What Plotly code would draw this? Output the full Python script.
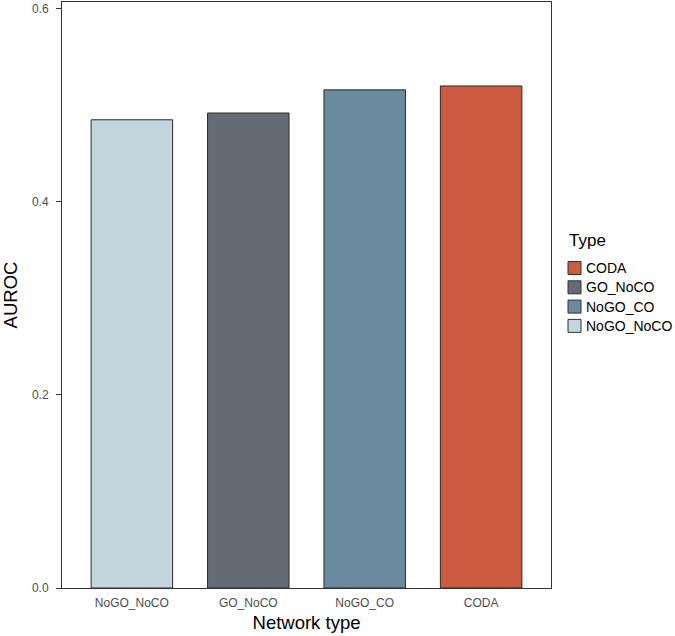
import plotly.graph_objects as go

categories = ["NoGO_NoCO", "GO_NoCO", "NoGO_CO", "CODA"]
auroc = [0.485, 0.492, 0.516, 0.520]
colors = {"CODA": "#CD5B3F", "GO_NoCO": "#646B75", "NoGO_CO": "#6A8AA0", "NoGO_NoCO": "#C3D5DD"}
legend_order = ["CODA", "GO_NoCO", "NoGO_CO", "NoGO_NoCO"]
y_ticks = [0.0, 0.2, 0.4, 0.6]

W, H = 675, 636
L, R, T, B = 62, 124, 2, 48
PW, PH = W - L - R, H - T - B

def px(x):
    return (x - L) / PW

def py(y):
    return (H - B - y) / PH

fig = go.Figure()
fig.add_trace(go.Bar(
    x=categories, y=auroc, width=0.7, showlegend=False,
    marker=dict(color=[colors[c] for c in categories], line=dict(color="#2B2B2B", width=1)),
    hovertemplate="%{x}: %{y:.3f}<extra></extra>",
))

font_family = "Liberation Sans, Arial, sans-serif"

# legend drawn manually (ggplot-style)
annotations = [dict(
    text="Type", xref="paper", yref="paper", x=px(567), y=py(240),
    xanchor="left", yanchor="middle", showarrow=False,
    font=dict(size=17, color="#000000", family=font_family),
)]
shapes = []
for k, name in enumerate(legend_order):
    yc = 268 + k * 19.3
    shapes.append(dict(
        type="rect", xref="paper", yref="paper",
        x0=px(568), x1=px(581), y0=py(yc - 6.5), y1=py(yc + 6.5),
        fillcolor=colors[name], line=dict(color="#333333", width=1),
    ))
    annotations.append(dict(
        text=name, xref="paper", yref="paper", x=px(584), y=py(yc),
        xanchor="left", yanchor="middle", showarrow=False,
        font=dict(size=14, color="#000000", family=font_family),
    ))

fig.update_layout(
    width=W, height=H,
    margin=dict(l=L, r=R, t=T, b=B),
    plot_bgcolor="white", paper_bgcolor="white",
    font=dict(family=font_family, color="#000000"),
    showlegend=False,
    annotations=annotations,
    shapes=shapes,
)
fig.update_xaxes(
    type="category", categoryorder="array", categoryarray=categories,
    range=[-0.6, 3.6], automargin=False,
    showline=True, mirror=True, linecolor="#333333", linewidth=1,
    ticks="", showgrid=False, ticklabelstandoff=4,
    tickfont=dict(size=12, color="#4D4D4D"),
    title=dict(text="Network type", font=dict(size=18.5, color="#000000"), standoff=6),
)
fig.update_yaxes(
    range=[0, 0.607], automargin=False,
    tickvals=y_ticks, ticktext=[f"{v:.1f}" for v in y_ticks],
    showline=True, mirror=True, linecolor="#333333", linewidth=1,
    ticks="outside", ticklen=5, tickcolor="#333333", ticklabelstandoff=5,
    showgrid=False, zeroline=False,
    tickfont=dict(size=12, color="#4D4D4D"),
    title=dict(text="AUROC", font=dict(size=18.5, color="#000000"), standoff=9),
)

fig.write_html("out.html", config={"displayModeBar": False},
               post_script="document.body.style.margin='0';")
